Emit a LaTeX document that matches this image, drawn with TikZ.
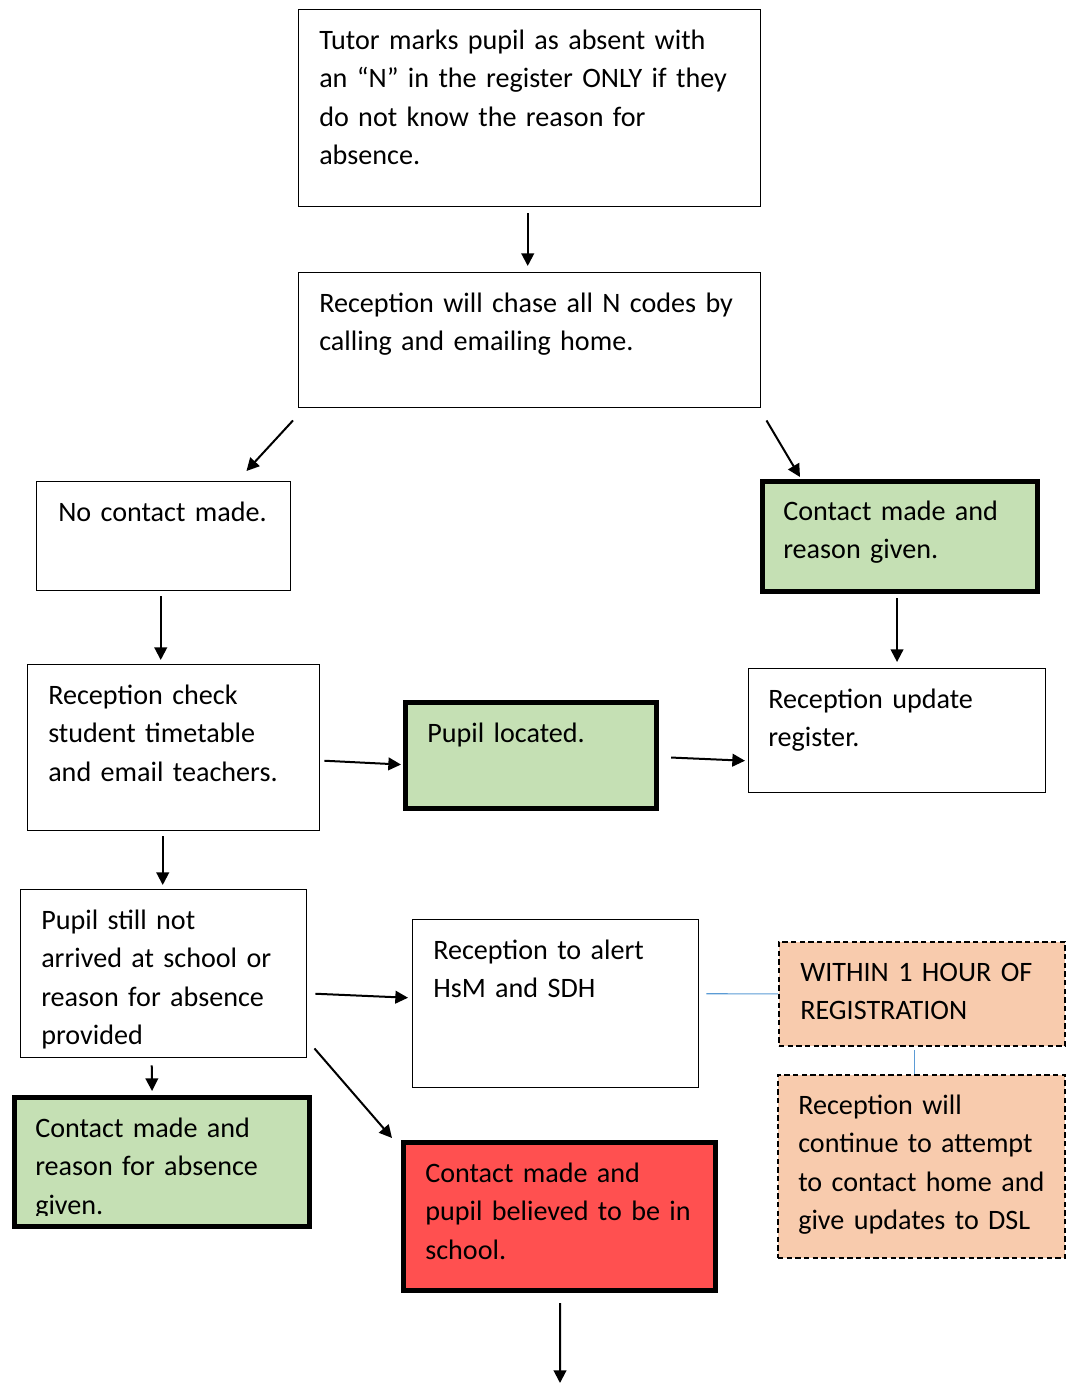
\documentclass[tikz,border=0pt]{standalone}
\usepackage{fontspec}
\setmainfont{Carlito}
\usetikzlibrary{arrows.meta,calc}

\definecolor{okgreen}{HTML}{C5E0B4}
\definecolor{alertred}{HTML}{FF5050}
\definecolor{notepeach}{HTML}{F8CBAD}
\definecolor{linkblue}{HTML}{5B9BD5}

\tikzset{
  wh/.style 2 args={minimum width=#1*0.75pt,minimum height=#2*0.75pt},
  box/.style={draw,line width=1.1pt,inner sep=0pt,anchor=north west},
  greenbox/.style={box,fill=okgreen,line width=3.8pt},
  redbox/.style={box,fill=alertred,line width=3.8pt},
  notebox/.style={box,fill=notepeach,dash pattern=on 4pt off 2.5pt,line width=1.3pt},
  txt/.style={inner sep=0pt,anchor=north west,align=left,text width=330pt,
    font=\fontsize{21.1}{28.9}\selectfont,execute at begin node=\strut},
  arr/.style={-{Triangle[length=9.5pt,width=9.5pt]},line width=1.5pt},
  link/.style={draw=linkblue,line width=0.8pt}
}

\begin{document}
\begin{tikzpicture}[x=0.75pt,y=-0.75pt]

\useasboundingbox (0,0) rectangle (1065,1383);

% boxes
\node[box,wh={462}{197}] (tutor) at (298,9) {};
\node[box,wh={462}{135}] (chase) at (298,272) {};
\node[box,wh={254}{109}] (nocontact) at (36,481) {};
\node[greenbox,wh={275}{110}] (given) at (760,479) {};
\node[box,wh={292}{166}] (check) at (27,664) {};
\node[greenbox,wh={251}{106}] (located) at (403,700) {};
\node[box,wh={297}{124}] (update) at (748,668) {};
\node[box,wh={286}{168}] (stillnot) at (20,889) {};
\node[box,wh={286}{168}] (alert) at (412,919) {};
\node[notebox,wh={286}{104}] (within) at (778,941) {};
\node[notebox,wh={287}{183}] (attempt) at (777,1074) {};
\node[greenbox,wh={295}{129}] (givenabs) at (12,1095) {};
\node[redbox,wh={312}{148}] (inschool) at (401,1140) {};
\coordinate (onward) at (560,1383);

% texts
\node[txt] (tutor-t) at ([shift={(21,13)}]tutor.north west)
  {Tutor marks pupil as absent with\\an “N” in the register ONLY if they\\do not know the reason for\\absence.};
\node[txt] (chase-t) at ([shift={(21,13)}]chase.north west)
  {Reception will chase all N codes by\\calling and emailing home.};
\node[txt] (nocontact-t) at ([shift={(22,13)}]nocontact.north west) {No contact made.};
\node[txt] (given-t) at ([shift={(23,14)}]given.north west) {Contact made and\\reason given.};
\node[txt] (check-t) at ([shift={(21,13)}]check.north west)
  {Reception check\\student timetable\\and email teachers.};
\node[txt] (located-t) at ([shift={(24,15)}]located.north west) {Pupil located.};
\node[txt] (update-t) at ([shift={(20,13)}]update.north west) {Reception update\\register.};
\node[txt] (stillnot-t) at ([shift={(21,13)}]stillnot.north west)
  {Pupil still not\\arrived at school or\\reason for absence\\provided};
\node[txt] (alert-t) at ([shift={(21,13)}]alert.north west) {Reception to alert\\HsM and SDH};
\node[txt] (within-t) at ([shift={(22,13)}]within.north west) {WITHIN 1 HOUR OF\\REGISTRATION};
\node[txt] (attempt-t) at ([shift={(21,13)}]attempt.north west)
  {Reception will\\continue to attempt\\to contact home and\\give updates to DSL};
\begin{scope}
  \clip (givenabs.north west) rectangle ([yshift=10.5pt]givenabs.south east);
  \node[txt] (givenabs-t) at ([shift={(23,15)}]givenabs.north west)
    {Contact made and\\reason for absence\\given.};
\end{scope}
\node[txt] (inschool-t) at ([shift={(24,15)}]inschool.north west)
  {Contact made and\\pupil believed to be in\\school.};

% arrows
\draw[arr,shorten <=4.5pt,shorten >=4.5pt] ([xshift=-1.5pt]tutor.south) -- ([xshift=-1.5pt]tutor.south |- chase.north);
\draw[arr] ([shift={(-5,12)}]chase.south west) -- ([shift={(-45,-10)}]nocontact.north east);
\draw[arr] ([shift={(5,12)}]chase.south east) -- ([shift={(40,-2)}]given.north west);
\draw[arr] ([shift={(-3,5)}]nocontact.south) -- ([shift={(-13,-4)}]check.north);
\draw[arr,shorten <=3pt,shorten >=4.5pt] ([xshift=-2.25pt]given.south) -- ([xshift=-2.25pt]given.south |- update.north);
\draw[arr] ([shift={(4,13)}]check.east) -- ([shift={(-2,9)}]located.west);
\draw[arr] ([shift={(12,2)}]located.east) -- ([shift={(-3,30)}]update.west);
\draw[arr] ([shift={(-11,5)}]check.south) -- ([shift={(-1,-4)}]stillnot.north);
\draw[arr] ([shift={(8,20)}]stillnot.east) -- ([shift={(-4,-6)}]alert.west);
\draw[arr] ([shift={(-12,7)}]stillnot.south) -- ([shift={(-10,-4)}]givenabs.north);
\draw[arr] ([shift={(7,-10)}]stillnot.south east) -- ([shift={(-9,-2)}]inschool.north west);
\draw[arr] ([shift={(0.5,10)}]inschool.south) -- (onward);

% notes
\draw[link] ([shift={(7,-10)}]alert.east) -- (within.west);
\draw[link] ([shift={(-7,3)}]within.south) -- ([xshift=-5.25pt]within.south |- attempt.north);
\end{tikzpicture}
\end{document}
